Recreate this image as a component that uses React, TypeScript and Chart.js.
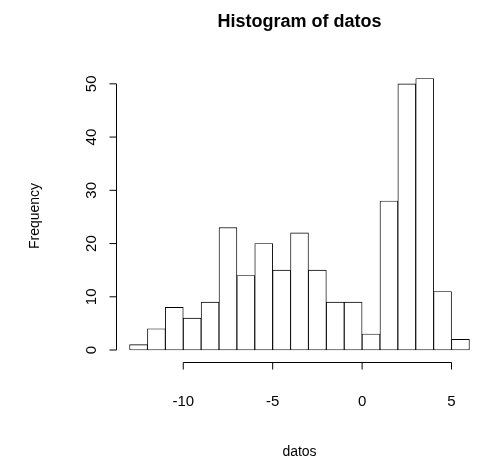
import React, { useEffect, useRef } from 'react';
import Chart from 'chart.js/auto';

const binStarts = [-13, -12, -11, -10, -9, -8, -7, -6, -5, -4, -3, -2, -1, 0, 1, 2, 3, 4, 5];
const counts = [1, 4, 8, 6, 9, 23, 14, 20, 15, 22, 15, 9, 9, 3, 28, 50, 51, 11, 2];
const xTicks = [-10, -5, 0, 5];
const yTicks = [0, 10, 20, 30, 40, 50];

const FONT = '"Liberation Sans", Arial, sans-serif';

const rAxes = {
  id: 'rAxes',
  afterDraw(chart: any) {
    const ctx = chart.ctx;
    const xs = chart.scales.x;
    const ys = chart.scales.y;
    const area = chart.chartArea;
    ctx.save();
    ctx.strokeStyle = '#000';
    ctx.fillStyle = '#000';
    ctx.lineWidth = 1;
    // x axis
    const ay = Math.round(area.bottom) + 0.5;
    ctx.beginPath();
    ctx.moveTo(xs.getPixelForValue(xTicks[0]), ay);
    ctx.lineTo(xs.getPixelForValue(xTicks[xTicks.length - 1]), ay);
    xTicks.forEach((t) => {
      const px = xs.getPixelForValue(t);
      ctx.moveTo(px, ay);
      ctx.lineTo(px, ay + 7);
    });
    ctx.stroke();
    ctx.font = '15px ' + FONT;
    ctx.textAlign = 'center';
    ctx.textBaseline = 'middle';
    xTicks.forEach((t) => ctx.fillText(String(t), xs.getPixelForValue(t), ay + 39));
    // y axis
    const ax = Math.round(area.left) + 0.5;
    ctx.beginPath();
    ctx.moveTo(ax, ys.getPixelForValue(yTicks[0]));
    ctx.lineTo(ax, ys.getPixelForValue(yTicks[yTicks.length - 1]));
    yTicks.forEach((t) => {
      const py = ys.getPixelForValue(t);
      ctx.moveTo(ax, py);
      ctx.lineTo(ax - 7, py);
    });
    ctx.stroke();
    yTicks.forEach((t) => {
      ctx.save();
      ctx.translate(ax - 25, ys.getPixelForValue(t));
      ctx.rotate(-Math.PI / 2);
      ctx.fillText(String(t), 0, 0);
      ctx.restore();
    });
    // titles
    const cx = (area.left + area.right) / 2;
    ctx.font = 'bold 18px ' + FONT;
    ctx.fillText('Histogram of datos', cx, 22);
    ctx.font = '14px ' + FONT;
    ctx.fillText('datos', cx, 452);
    ctx.save();
    ctx.translate(35, (area.top + area.bottom) / 2);
    ctx.rotate(-Math.PI / 2);
    ctx.fillText('Frequency', 0, 0);
    ctx.restore();
    ctx.restore();
  },
};

const App: React.FC = () => {
  const canvasRef = useRef<HTMLCanvasElement>(null);

  useEffect(() => {
    document.body.style.margin = '0';
    if (!canvasRef.current) return;
    const chart = new Chart(canvasRef.current, {
      type: 'bar',
      data: {
        datasets: [
          {
            data: binStarts.map((b, i) => ({ x: b + 0.5, y: counts[i] })),
            backgroundColor: '#ffffff',
            borderColor: '#000000',
            borderWidth: 0.9,
            barPercentage: 1,
            categoryPercentage: 1,
            borderSkipped: false,
          },
        ],
      },
      options: {
        animation: false,
        responsive: false,
        layout: { padding: { left: 116, right: 5, top: 70, bottom: 101 } },
        plugins: { legend: { display: false }, tooltip: { enabled: false } },
        scales: {
          x: { type: 'linear', display: false, min: -13.76, max: 6.76, offset: false },
          y: { display: false, min: -2.25, max: 52.6 },
        },
      },
      plugins: [rAxes],
    });
    return () => chart.destroy();
  }, []);

  return <canvas ref={canvasRef} width={488} height={463} style={{ display: 'block' }} />;
};

export default App;
